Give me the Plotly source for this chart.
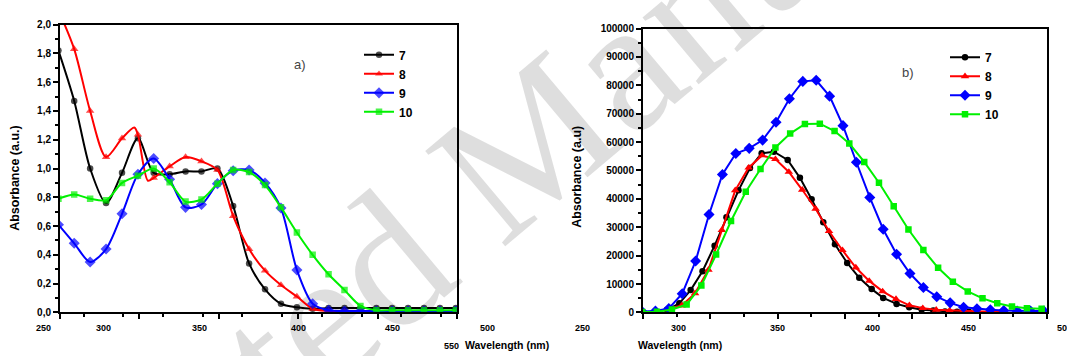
import plotly.graph_objects as go

W, H = 1067, 356

# ---------------- Panel a) : absorption (left) ----------------
A_X = [276.4, 284.6, 292.9, 301.2, 309.5, 317.8, 326.0, 334.3, 342.6, 350.9,
       359.2, 367.4, 375.7, 384.0, 392.3, 400.6, 408.8, 417.1, 425.4, 433.7,
       442.0, 450.2, 458.5, 466.8, 475.1, 483.4]
A7 = [1.82, 1.47, 1.00, 0.76, 0.97, 1.21, 0.97, 0.96, 0.98, 0.98,
      1.00, 0.74, 0.34, 0.16, 0.06, 0.035, 0.025, 0.03, 0.03, 0.03,
      0.03, 0.03, 0.03, 0.03, 0.03, 0.03]
A8 = [2.10, 1.83, 1.40, 1.08, 1.21, 1.235, 0.935, 1.015, 1.08, 1.05,
      0.99, 0.67, 0.44, 0.29, 0.19, 0.11, 0.025, 0.01, 0.005, 0.005,
      0.005, 0.005, 0.005, 0.005, 0.005, 0.005]
A9 = [0.61, 0.48, 0.35, 0.44, 0.685, 0.96, 1.07, 0.925, 0.73, 0.75,
      0.895, 0.985, 0.99, 0.90, 0.725, 0.295, 0.06, 0.015, 0.01, 0.01,
      0.01, 0.01, 0.01, 0.01, 0.01, 0.01]
A10 = [0.79, 0.82, 0.79, 0.78, 0.90, 0.95, 1.00, 0.905, 0.77, 0.785,
       0.895, 0.99, 0.975, 0.885, 0.73, 0.555, 0.40, 0.265, 0.155, 0.045,
       0.015, 0.015, 0.015, 0.015, 0.015, 0.015]
# unmarked curve points of compound 8 (sharp peak / dip)
A8_EXTRA_X = [315.9, 323.0]
A8_EXTRA_Y = [1.285, 0.915]

# ---------------- Panel b) : emission (right) ----------------
B7_X = [281.5, 287.8, 294.1, 300.5, 306.4, 312.6, 318.9, 325.1, 331.4, 337.4,
        343.5, 349.9, 357.1, 363.5, 369.6, 375.7, 381.8, 388.2, 394.5, 401.0,
        407.0, 414.0, 420.6, 427.1, 433.2, 439.3, 445.6, 451.8]
B7 = [0, 300, 900, 3200, 7850, 14500, 23500, 33500, 43000, 50900,
      56100, 56600, 53700, 47400, 39900, 31800, 24000, 17400, 12200, 8200,
      5100, 3000, 1800, 900, 700, 300, 200, 200]
B8_X = [280.7, 287.7, 294.7, 301.7, 308.7, 315.7, 322.7, 329.7, 336.7, 343.7,
        350.7, 357.7, 364.7, 371.7, 378.7, 385.7, 392.7, 399.7, 406.7, 413.7,
        420.7, 427.7, 434.7, 441.7, 448.7, 455.7, 462.7, 469.7]
B8 = [0, 200, 1100, 2400, 6700, 15000, 29000, 43000, 51000, 55300,
      54000, 49500, 43200, 36500, 28600, 21900, 15800, 11100, 7400, 4700,
      2500, 1500, 900, 700, 400, 300, 200, 200]
B9_X = [281, 288, 295, 302, 309, 316, 323, 330, 337, 344,
        351, 358, 365, 372, 379, 386, 393, 400, 407, 414,
        421, 428, 435, 442, 449, 456, 463, 470, 477, 484, 491]
B9 = [300, 500, 1400, 6600, 18100, 34500, 48600, 56000, 57800, 60700,
      67000, 75300, 81400, 81800, 76200, 65800, 52900, 40500, 29300, 20500,
      13700, 8750, 5540, 3360, 1830, 1280, 930, 690, 450, 450, 450]
B10_X = [281.1, 288.8, 296.6, 304.3, 312.0, 319.7, 327.5, 335.2, 342.9, 350.7,
         358.4, 366.1, 373.9, 381.6, 389.3, 397.1, 404.8, 412.5, 420.2, 428.0,
         435.7, 443.4, 451.2, 458.9, 466.6, 474.3, 482.1, 489.8]
B10 = [100, 200, 1000, 2770, 9500, 20400, 32200, 42500, 50500, 58100,
       63000, 66400, 66500, 63900, 59500, 53000, 45700, 37400, 29200, 22000,
       15700, 10800, 7400, 4950, 3220, 2080, 1490, 1280]

NAMES = ["7", "8", "9", "10"]
X_TICK_LABELS = ["250", "300", "350", "400", "450", "500"]

# ---------------- styling / layout constants ----------------
COLORS = ["#000000", "#ff0000", "#0000ff", "#00f000"]
SYMBOLS = ["circle", "triangle-up", "diamond", "square"]
MSIZE = [6.5, 7.5, 8.5, 6.5]
LEFT_XLABEL_PX = [43, 103, 199, 298, 392, 487]
RIGHT_XLABEL_PX = [583, 678, 777, 872, 968, 1064]
YS = 0.984  # vertical compensation factor

fig = go.Figure()

def merged(xs, ys, ex, ey, base_size):
    pts = [(x, y, base_size) for x, y in zip(xs, ys)] + [(x, y, 0) for x, y in zip(ex, ey)]
    pts.sort(key=lambda p: p[0])
    return [p[0] for p in pts], [p[1] for p in pts], [p[2] for p in pts]

left_series = [(A_X, A7, [], []), (A_X, A8, A8_EXTRA_X, A8_EXTRA_Y),
               (A_X, A9, [], []), (A_X, A10, [], [])]
for i, (xs, ys, ex, ey) in enumerate(left_series):
    x, y, s = merged(xs, ys, ex, ey, MSIZE[i])
    fig.add_trace(go.Scatter(
        x=x, y=y, name=NAMES[i], mode="lines+markers",
        line=dict(color=COLORS[i], width=2, shape="spline", smoothing=0.8),
        marker=dict(symbol=SYMBOLS[i], size=s, color=COLORS[i], line=dict(width=0)),
        xaxis="x", yaxis="y", legend="legend"))

right_series = [(B7_X, B7), (B8_X, B8), (B9_X, B9), (B10_X, B10)]
for i, (xs, ys) in enumerate(right_series):
    fig.add_trace(go.Scatter(
        x=xs, y=ys, name=NAMES[i], mode="lines+markers",
        line=dict(color=COLORS[i], width=2),
        marker=dict(symbol=SYMBOLS[i], size=MSIZE[i], color=COLORS[i], line=dict(width=0)),
        xaxis="x2", yaxis="y2", legend="legend2"))

def px(v):
    return v / W

def py(v):
    return 1 - (v / YS) / H

tickfont = dict(family="Arial", size=10, color="black", weight="bold")
axis_common = dict(showgrid=False, zeroline=False, showline=True, linecolor="black",
                   linewidth=2, mirror=True, ticks="outside", ticklen=5, tickwidth=1.5,
                   tickcolor="black", tickfont=tickfont)
legend_font = dict(family="Arial", size=12, color="black", weight="bold")

fig.update_layout(
    width=W, height=H, margin=dict(l=0, r=0, t=0, b=0),
    paper_bgcolor="white", plot_bgcolor="rgba(0,0,0,0)",
    separators=",.",
    xaxis=dict(domain=[px(60), px(457)], range=[277.2, 484.0], anchor="y",
               tick0=277.2, dtick=41.36, showticklabels=False,
               minor=dict(dtick=20.68, ticks="outside", ticklen=3, tickcolor="black"),
               **axis_common),
    yaxis=dict(domain=[py(312), py(19)], range=[0, 2.0], anchor="x",
               tick0=0, dtick=0.2, tickformat=".1f",
               minor=dict(dtick=0.1, ticks="outside", ticklen=3, tickcolor="black"),
               **axis_common),
    xaxis2=dict(domain=[px(643), px(1047)], range=[281.5, 492.6], anchor="y2",
                tick0=281.5, dtick=35.18, showticklabels=False,
                minor=dict(dtick=17.59, ticks="outside", ticklen=3, tickcolor="black"),
                **axis_common),
    yaxis2=dict(domain=[py(312), py(23)], range=[0, 100000], anchor="x2",
                tick0=0, dtick=10000, tickformat="d",
                minor=dict(dtick=5000, ticks="outside", ticklen=3, tickcolor="black"),
                **axis_common),
    legend=dict(x=px(359), y=py(35), xanchor="left", yanchor="top",
                bgcolor="rgba(0,0,0,0)", itemwidth=30, tracegroupgap=0,
                font=legend_font),
    legend2=dict(x=px(945), y=py(37.5), xanchor="left", yanchor="top",
                 bgcolor="rgba(0,0,0,0)", itemwidth=30, tracegroupgap=0,
                 font=legend_font),
    showlegend=True,
)

ann = []
lab_font = dict(family="Arial", size=9, color="black", weight="bold")
for t, p in zip(X_TICK_LABELS, LEFT_XLABEL_PX):
    ann.append(dict(text=t, x=px(p), y=py(328), xref="paper", yref="paper",
                    xanchor="center", yanchor="middle", showarrow=False, font=lab_font))
for t, p in zip(X_TICK_LABELS, RIGHT_XLABEL_PX):
    ann.append(dict(text=t, x=px(p), y=py(328), xref="paper", yref="paper",
                    xanchor="center", yanchor="middle", showarrow=False, font=lab_font))
ann.append(dict(text="550", x=px(451), y=py(346), xref="paper", yref="paper",
                xanchor="center", yanchor="middle", showarrow=False, font=lab_font))
title_font = dict(family="Arial", size=10.5, color="black", weight="bold")
ann.append(dict(text="Wavelength (nm)", x=px(463), y=py(345.5), xref="paper", yref="paper",
                xanchor="left", yanchor="middle", showarrow=False, font=title_font))
ann.append(dict(text="Wavelength (nm)", x=px(680), y=py(345.5), xref="paper", yref="paper",
                xanchor="center", yanchor="middle", showarrow=False, font=title_font))
ytitle_font = dict(family="Arial", size=12.5, color="black", weight="bold")
ann.append(dict(text="Absorbance (a.u.)", x=px(15), y=py(175), xref="paper", yref="paper",
                xanchor="center", yanchor="middle", textangle=-90, showarrow=False,
                font=ytitle_font))
ann.append(dict(text="Absorbance (a.u)", x=px(577), y=py(174), xref="paper", yref="paper",
                xanchor="center", yanchor="middle", textangle=-90, showarrow=False,
                font=ytitle_font))
panel_font = dict(family="Arial", size=13, color="#444444")
ann.append(dict(text="a)", x=px(300), y=py(60), xref="paper", yref="paper",
                xanchor="center", yanchor="middle", showarrow=False, font=panel_font))
ann.append(dict(text="b)", x=px(908), y=py(68), xref="paper", yref="paper",
                xanchor="center", yanchor="middle", showarrow=False, font=panel_font))
fig.update_layout(annotations=ann)

# faint watermark behind the data
fig.add_shape(type="rect", xref="paper", yref="paper",
              x0=px(475), x1=px(495), y0=py(159), y1=py(139),
              line=dict(width=0), fillcolor="rgba(0,0,0,0)", layer="below",
              label=dict(text="Accepted Manuscript", textangle=-40,
                         textposition="middle center",
                         font=dict(family="Liberation Serif", size=190,
                                   color="rgba(190,190,190,0.5)")))

fig.write_html("out.html")
